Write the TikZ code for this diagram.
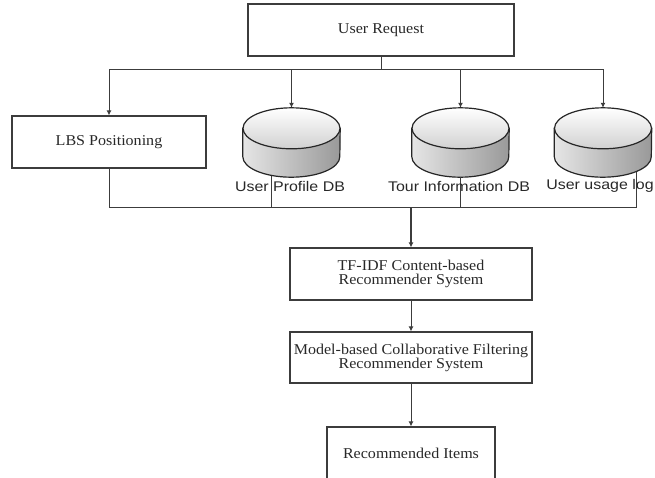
\documentclass[tikz,border=0pt]{standalone}
\usepackage{fontspec}
\setmainfont[FakeStretch=1.07]{Liberation Serif}
\newfontfamily\dbfont[FakeStretch=1.14]{Liberation Sans}
\usetikzlibrary{arrows.meta,calc}
\definecolor{linegray}{RGB}{60,60,60}
\definecolor{textgray}{RGB}{40,40,40}

\begin{document}
\begin{tikzpicture}[x=1pt,y=1pt,>={Latex[length=5pt,width=5pt]}]
        \tikzstyle{block}=[rectangle,draw=linegray,line width=1.2pt,inner sep=0pt,text=textgray,font=\fontsize{15}{14}\selectfont,align=center]
        \tikzstyle{db}=[rectangle,minimum width=97pt,minimum height=69pt,inner sep=0pt]
        \tikzstyle{dbline}=[draw=black!85,line width=1.2pt]
        \tikzstyle{dblabel}=[font=\dbfont\fontsize{14}{16}\selectfont,text=textgray,inner sep=0pt]
        \tikzstyle{edge}=[draw=linegray,line width=1pt]
        \useasboundingbox (0,0) rectangle (655,-477);
        \node [block,minimum width=266pt,minimum height=52pt] (req) at (381,-30) {User Request};
        \node [block,minimum width=194pt,minimum height=52pt] (lbs) at (109,-142) {LBS Positioning};
        \node [db] (db1) at (291.5,-142.5) {};
        \node [db] (db2) at (460.5,-142.5) {};
        \node [db] (db3) at (603,-142.5) {};
        \foreach \n in {db1,db2,db3} {
          \path[dbline,left color=black!10,right color=black!40] ($(\n.north west)+(0,-20.5)$) -- ($(\n.south west)+(0,20.5)$)
            arc[start angle=180,end angle=360,x radius=48.5,y radius=20.5] -- ($(\n.north east)+(0,-20.5)$) -- cycle;
          \path[dbline,top color=white,bottom color=black!18] ($(\n.north)+(0,-20.5)$) ellipse[x radius=48.5,y radius=20.5];
        }
        \node [block,minimum width=242pt,minimum height=52pt] (tfidf) at (411,-274) {TF-IDF Content-based\\Recommender System};
        \node [block,minimum width=242pt,minimum height=51pt] (cf) at (411,-357.5) {Model-based Collaborative Filtering\\Recommender System};
        \node [block,minimum width=168pt,minimum height=52pt] (rec) at (411,-453) {Recommended Items};
        \coordinate (fork) at (381,-69);
        \coordinate (merge) at (411,-207);
        \path[edge] (req.south) -- (fork);
        \path[edge,->] (fork) -| (lbs.north);
        \path[edge,->] (fork) -| (db1.north);
        \path[edge,->] (fork) -| (db2.north);
        \path[edge,->] (fork) -| (db3.north);
        \path[edge] (lbs.south) |- (merge);
        \path[edge] ($(db1.center)+(-20,-33)$) |- (merge);
        \path[edge] (db2.south) |- (merge);
        \path[edge] ($(db3.center)+(33,-29)$) |- (merge);
        \path[edge,->,line width=2pt] (merge) -- (tfidf.north);
        \path[edge,->] (tfidf) -- (cf);
        \path[edge,->] (cf) -- (rec);
        \node [dblabel] (l1) at (290,-186) {User Profile DB};
        \node [dblabel] (l2) at (459,-186) {Tour Information DB};
        \node [dblabel] (l3) at (600,-186) {User usage log};
      \end{tikzpicture}
\end{document}
